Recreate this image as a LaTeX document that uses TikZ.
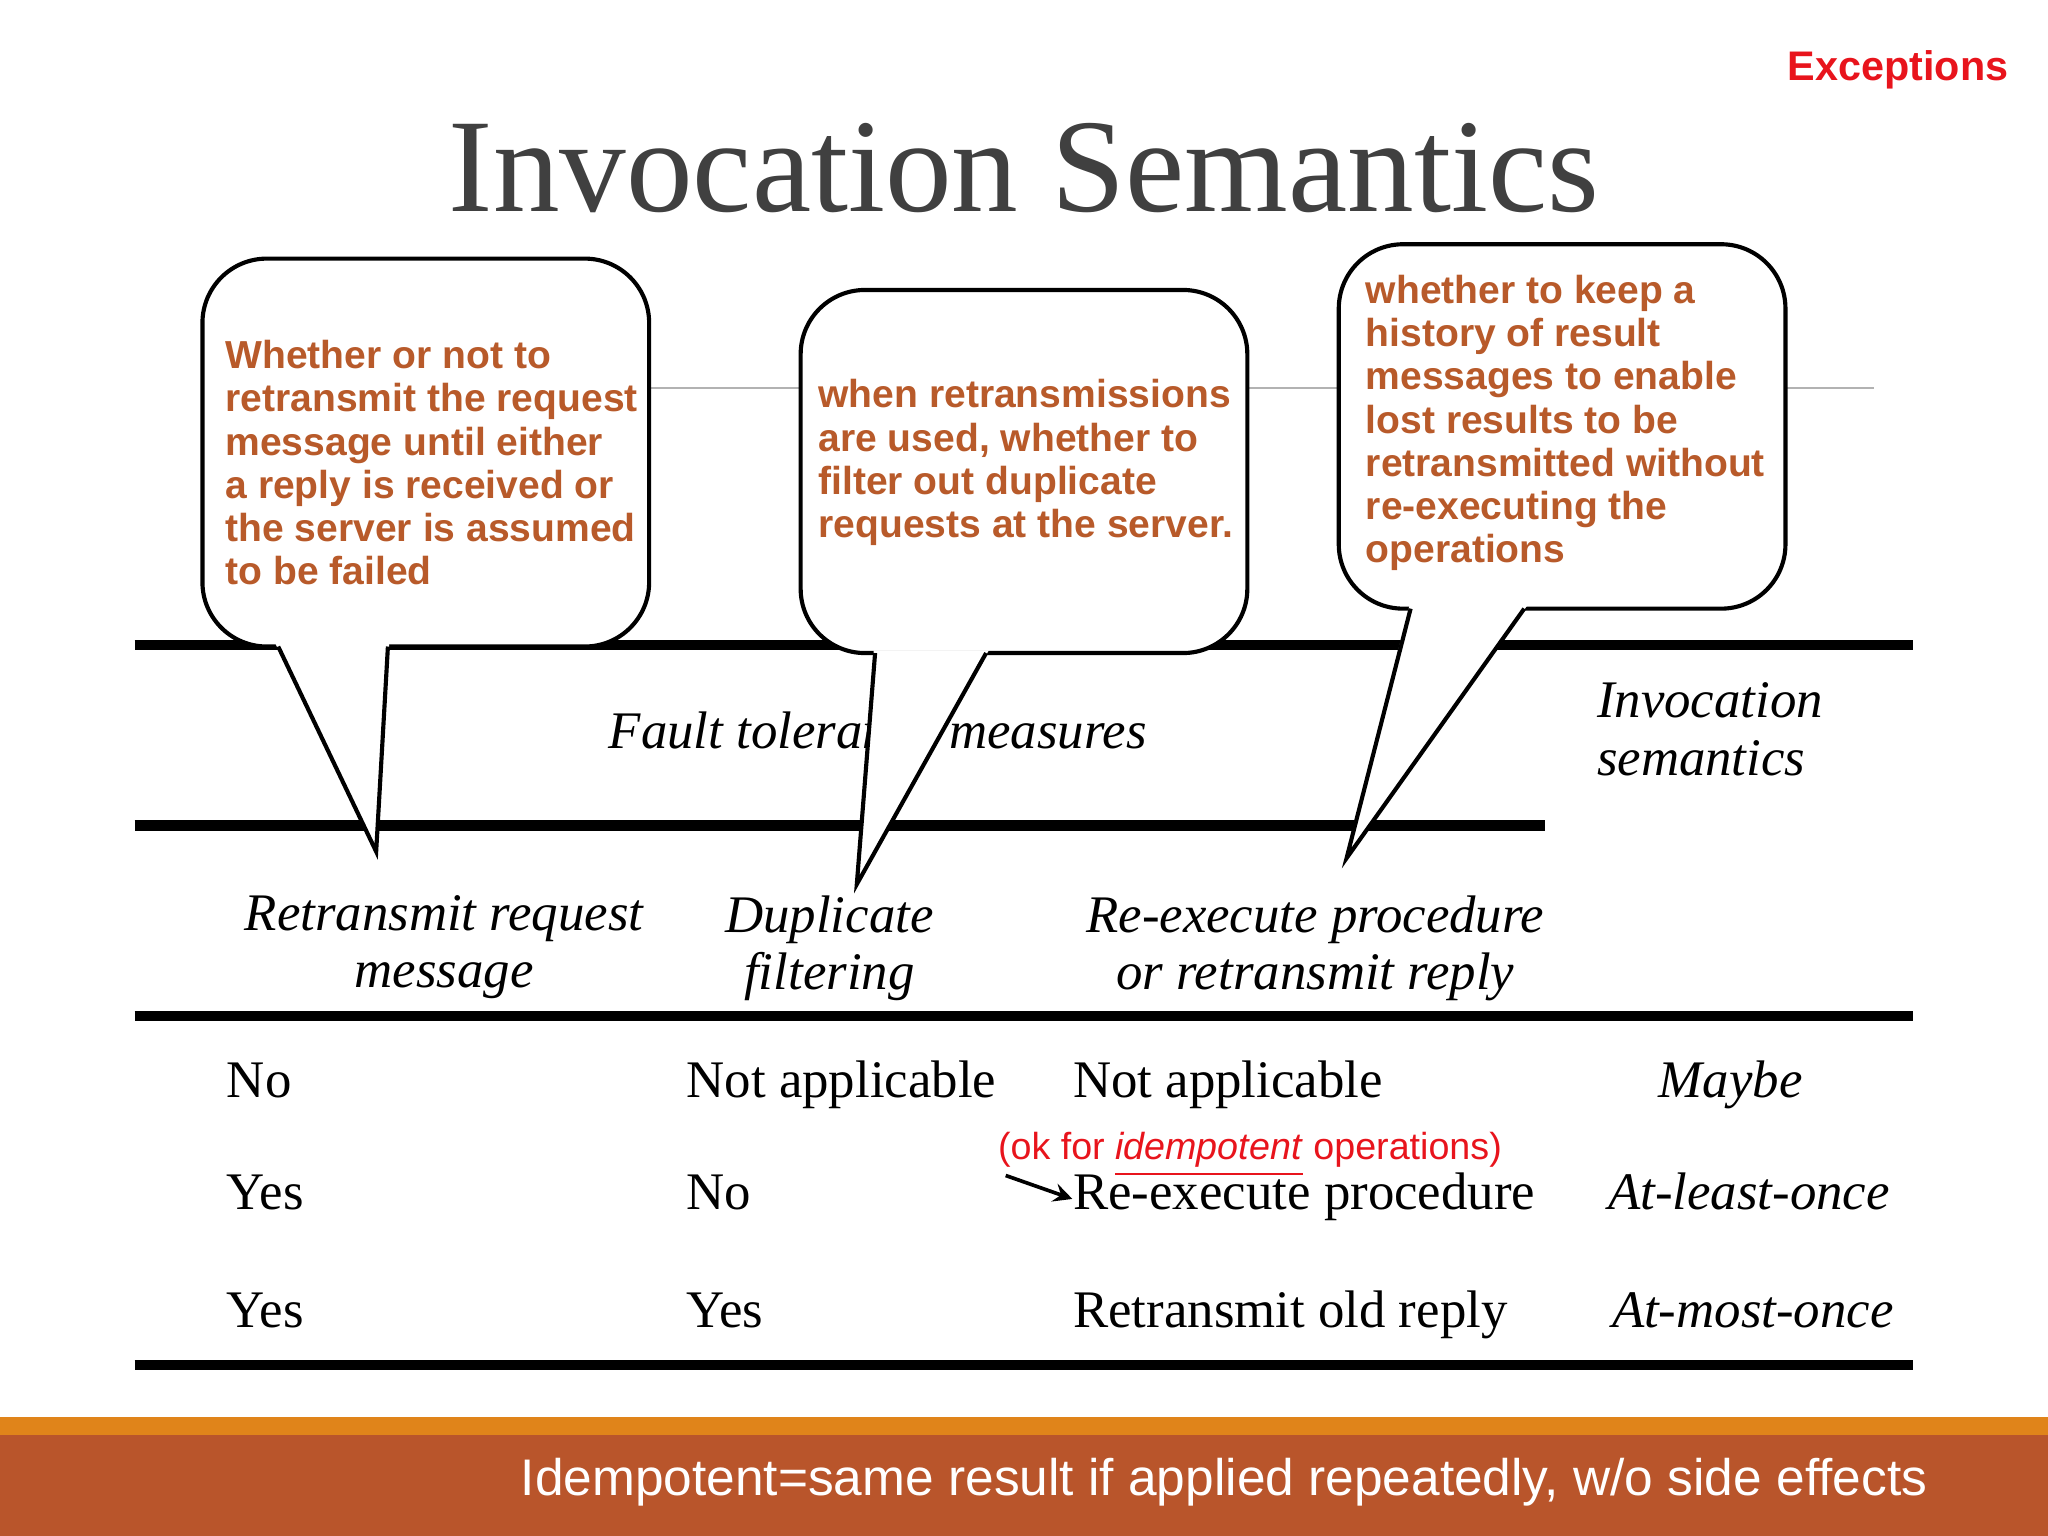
\documentclass[tikz,border=0pt]{standalone}
\usepackage{fontspec}
\setmainfont{Liberation Serif}
\setsansfont{Liberation Sans}
\definecolor{bub}{HTML}{B85A2A}
\definecolor{barb}{HTML}{B9552B}
\definecolor{baro}{HTML}{E0841A}
\definecolor{redx}{HTML}{E8141C}
\definecolor{titlec}{HTML}{404040}
\newcommand{\myul}[1]{\underline{#1}}
\begin{document}
\begin{tikzpicture}[x=0.01cm,y=-0.01cm,
 rule/.style={line width=2.2pt},
 cell/.style={anchor=base west,inner sep=0,font=\fontsize{11.5}{13}\selectfont},
 icell/.style={cell,font=\fontsize{11.5}{12.5}\selectfont\itshape},
 btxt/.style={anchor=north west,align=left,inner sep=0,text=bub,font=\sffamily\bfseries\fontsize{8.5}{9.4}\selectfont},
 bubble/.style={draw=black,fill=white,line width=0.9pt,rounded corners=14pt}]
\useasboundingbox (0,0) rectangle (1568,1176);
% title
\node[text=titlec,font=\fontsize{29}{30}\selectfont,anchor=base] (title) at (784,162) {Invocation Semantics};
\node[text=redx,font=\sffamily\bfseries\fontsize{9}{10}\selectfont,anchor=base east] (exc) at (1550,62) {Exceptions};
% thin line
\draw[gray!60,line width=0.4pt] (497,297) -- (1435,297);
% rules
\draw[rule] (103,494) -- (1465,494);
\draw[rule] (103,632) -- (1183,632);
\draw[rule] (103,778) -- (1465,778);
\draw[rule] (103,1045) -- (1465,1045);
% headers
\node[icell,anchor=base] (ft) at (672,573) {Fault tolerance measures};
\node[icell,align=left,anchor=north west] (is) at (1222,522) {Invocation\\semantics};
\node[icell,align=center,anchor=north] (h1) at (340,685) {Retransmit request\\message};
\node[icell,align=center,anchor=north] (h2) at (635,685) {Duplicate\\filtering};
\node[icell,align=center,anchor=north] (h3) at (1007,685) {Re-execute procedure\\or retransmit reply};
% rows
\node[cell] (r11) at (173,840) {No};
\node[cell] (r12) at (525,840) {Not applicable};
\node[cell] (r13) at (821,840) {Not applicable};
\node[icell,anchor=base] (r14) at (1325,840) {Maybe};
\node[cell] (r21) at (173,926) {Yes};
\node[cell] (r22) at (525,926) {No};
\node[cell] (r23) at (821,926) {Re-execute procedure};
\node[icell,anchor=base] (r24) at (1339,926) {At-least-once};
\node[cell] (r31) at (173,1016) {Yes};
\node[cell] (r32) at (525,1016) {Yes};
\node[cell] (r33) at (821,1016) {Retransmit old reply};
\node[icell,anchor=base] (r34) at (1342,1016) {At-most-once};
\node[text=redx,font=\sffamily\fontsize{8.2}{9}\selectfont,anchor=base] (ok) at (957,888) {(ok for \myul{\textit{idempotent}} operations)};
\coordinate (ars) at (770,900);
\draw[-stealth,line width=0.8pt] (ars) -- (r23.west|-r23.mid);
% bubbles
\draw[bubble] (155,198) rectangle (497,495);
\fill[white] (211,493) -- (288,652) -- (298,493) -- cycle;
\draw[line width=0.9pt,line join=miter] (213,495) -- (288,652) -- (297,495);
\node[btxt] (b1) at (172,260) {Whether or not to\\retransmit the request\\message until either\\a reply is received or\\the server is assumed\\to be failed};
\draw[bubble] (613,222) rectangle (955,500);
\fill[white] (669,498) -- (656,677) -- (757,498) -- cycle;
\draw[line width=0.9pt] (670,500) -- (656,677) -- (755,500);
\node[btxt] (b2) at (626,290) {when retransmissions\\are used, whether to\\filter out duplicate\\requests at the server.};
\draw[bubble] (1025,187) rectangle (1367,466);
\fill[white] (1079,464) -- (1031,657) -- (1169,464) -- cycle;
\draw[line width=0.9pt] (1080,466) -- (1031,657) -- (1167,466);
\node[btxt] (b3) at (1045,210) {whether to keep a\\history of result\\messages to enable\\lost results to be\\retransmitted without\\re-executing the\\operations};
% bottom bar
\fill[baro] (0,1085) rectangle (1568,1099);
\fill[barb] (0,1099) rectangle (1568,1176);
\node[text=white,font=\sffamily\fontsize{11.2}{12}\selectfont,anchor=base east] (foot) at (1488,1145) {Idempotent=same result if applied repeatedly, w/o side effects};
\end{tikzpicture}
\end{document}
